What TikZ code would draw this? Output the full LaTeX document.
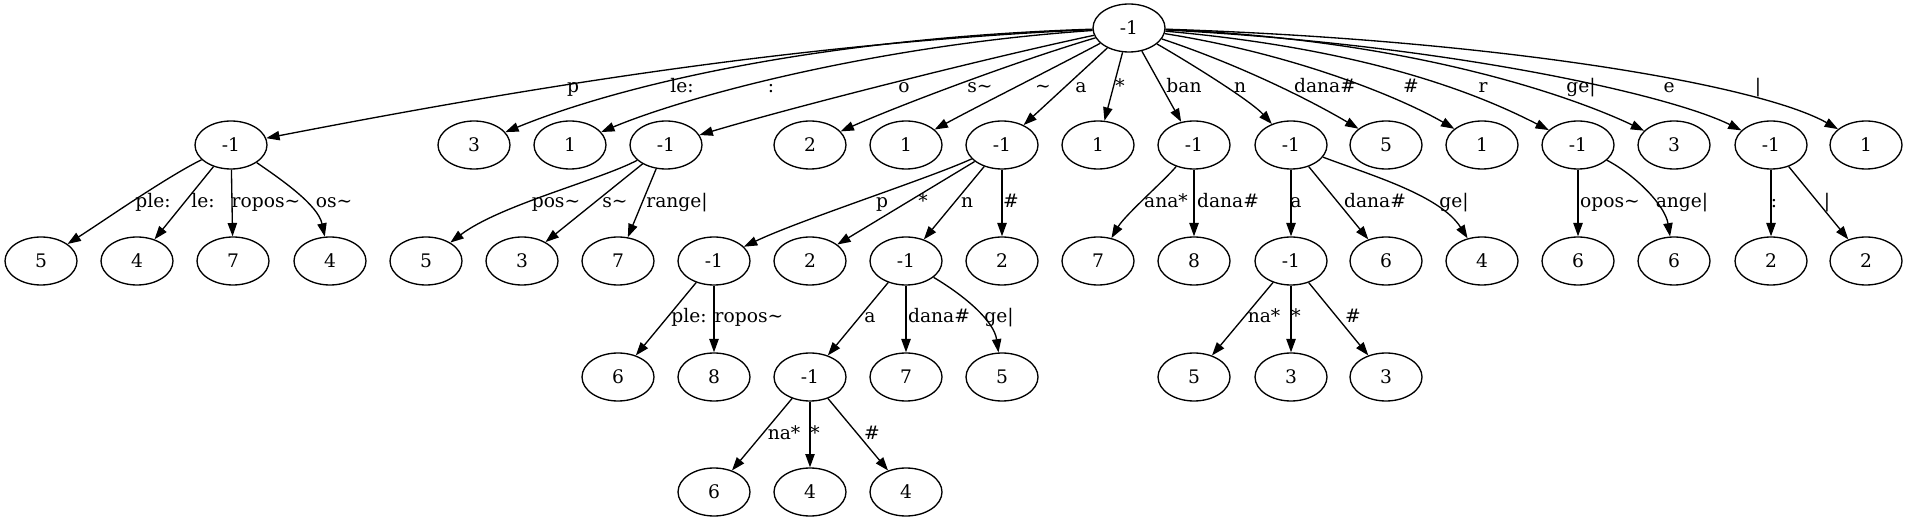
\documentclass[tikz,border=0pt]{standalone}
\usepackage{fontspec}
\setmainfont{DejaVu Serif}
\usetikzlibrary{shapes.geometric,arrows.meta}
\begin{document}
\begin{tikzpicture}[x=0.75pt,y=-0.75pt,
  nd/.style={draw,ellipse,line width=1pt,minimum width=54pt,minimum height=36pt,inner sep=0pt,font=\fontsize{14}{16}\selectfont},
  ed/.style={line width=1pt,-{Triangle[length=10pt,width=7pt]}},
  lb/.style={inner sep=0pt,anchor=base,font=\fontsize{14}{16}\selectfont}]
\useasboundingbox (0,0) rectangle (1908,523);
% root
\node[nd] (R) at (1129,28) {-1};
% level 1
\node[nd] (A)   at (231,145) {-1};
\node[nd] (L3a) at (474,145) {3};
\node[nd] (L1a) at (570,145) {1};
\node[nd] (B)   at (666,145) {-1};
\node[nd] (L2a) at (810,145) {2};
\node[nd] (L1b) at (906,145) {1};
\node[nd] (C)   at (1002,145) {-1};
\node[nd] (L1c) at (1098,145) {1};
\node[nd] (D)   at (1194,145) {-1};
\node[nd] (E)   at (1291,145) {-1};
\node[nd] (L5a) at (1386,145) {5};
\node[nd] (L1d) at (1482,145) {1};
\node[nd] (F)   at (1578,145) {-1};
\node[nd] (L3b) at (1674,145) {3};
\node[nd] (G)   at (1771,145) {-1};
\node[nd] (L1e) at (1866,145) {1};
% level 2
\node[nd] (a1) at (41,261) {5};
\node[nd] (a2) at (137,261) {4};
\node[nd] (a3) at (233,261) {7};
\node[nd] (a4) at (330,261) {4};
\node[nd] (b1) at (426,261) {5};
\node[nd] (b2) at (522,261) {3};
\node[nd] (b3) at (618,261) {7};
\node[nd] (H)  at (714,261) {-1};
\node[nd] (c2) at (810,261) {2};
\node[nd] (I)  at (906,261) {-1};
\node[nd] (c4) at (1002,261) {2};
\node[nd] (d1) at (1098,261) {7};
\node[nd] (d2) at (1194,261) {8};
\node[nd] (J)  at (1291,261) {-1};
\node[nd] (e2) at (1386,261) {6};
\node[nd] (e3) at (1482,261) {4};
\node[nd] (f1) at (1578,261) {6};
\node[nd] (f2) at (1674,261) {6};
\node[nd] (g1) at (1771,261) {2};
\node[nd] (g2) at (1866,261) {2};
% level 3
\node[nd] (h1) at (618,377) {6};
\node[nd] (h2) at (714,377) {8};
\node[nd] (K)  at (810,377) {-1};
\node[nd] (i2) at (906,377) {7};
\node[nd] (i3) at (1002,377) {5};
\node[nd] (j1) at (1194,377) {5};
\node[nd] (j2) at (1291,377) {3};
\node[nd] (j3) at (1386,377) {3};
% level 4
\node[nd] (k1) at (714,492) {6};
\node[nd] (k2) at (810,492) {4};
\node[nd] (k3) at (906,492) {4};
% root edges
\draw[ed] (R) .. controls (793,43) and (515,90) .. (A);
\draw[ed] (R) .. controls (820,38) and (620,85) .. (L3a);
\draw[ed] (R) .. controls (880,45) and (690,95) .. (L1a);
\draw[ed] (R) .. controls (1000,55) and (800,105) .. (B);
\draw[ed] (R) .. controls (1020,60) and (900,105) .. (L2a);
\draw[ed] (R) .. controls (1050,70) and (980,105) .. (L1b);
\draw[ed] (R) -- (C);
\draw[ed] (R) -- (L1c);
\draw[ed] (R) -- (D);
\draw[ed] (R) .. controls (1185,60) and (1250,100) .. (E);
\draw[ed] (R) .. controls (1240,65) and (1310,100) .. (L5a);
\draw[ed] (R) .. controls (1300,55) and (1405,100) .. (L1d);
\draw[ed] (R) .. controls (1380,50) and (1490,100) .. (F);
\draw[ed] (R) .. controls (1420,40) and (1580,100) .. (L3b);
\draw[ed] (R) .. controls (1450,45) and (1670,95) .. (G);
\draw[ed] (R) .. controls (1500,40) and (1760,85) .. (L1e);
% level 1 -> 2
\draw[ed] (A) .. controls (165,178) and (105,220) .. (a1);
\draw[ed] (A) -- (a2);
\draw[ed] (A) -- (a3);
\draw[ed] (A) .. controls (282,180) and (318,205) .. (a4);
\draw[ed] (B) .. controls (600,180) and (500,205) .. (b1);
\draw[ed] (B) -- (b2);
\draw[ed] (B) -- (b3);
\draw[ed] (C) .. controls (930,178) and (800,220) .. (H);
\draw[ed] (C) -- (c2);
\draw[ed] (C) -- (I);
\draw[ed] (C) -- (c4);
\draw[ed] (D) .. controls (1165,180) and (1125,215) .. (d1);
\draw[ed] (D) -- (d2);
\draw[ed] (E) -- (J);
\draw[ed] (E) -- (e2);
\draw[ed] (E) .. controls (1370,175) and (1440,195) .. (e3);
\draw[ed] (F) -- (f1);
\draw[ed] (F) .. controls (1635,175) and (1665,205) .. (f2);
\draw[ed] (G) -- (g1);
\draw[ed] (G) -- (g2);
% level 2 -> 3
\draw[ed] (H) -- (h1);
\draw[ed] (H) -- (h2);
\draw[ed] (I) -- (K);
\draw[ed] (I) -- (i2);
\draw[ed] (I) .. controls (965,296) and (994,321) .. (i3);
\draw[ed] (J) -- (j1);
\draw[ed] (J) -- (j2);
\draw[ed] (J) -- (j3);
% level 3 -> 4
\draw[ed] (K) -- (k1);
\draw[ed] (K) -- (k2);
\draw[ed] (K) -- (k3);
% labels row 1
\node[lb] (t01) at (573,93) {p};
\node[lb] (t02) at (682,93) {le:};
\node[lb] (t03) at (771,93) {:};
\node[lb] (t04) at (904,93) {o};
\node[lb] (t05) at (980,93) {s\textasciitilde};
\node[lb] (t06) at (1043,93) {\textasciitilde};
\node[lb] (t07) at (1081,93) {a};
\node[lb] (t08) at (1120,93) {*};
\node[lb] (t09) at (1184,93) {ban};
\node[lb] (t10) at (1240,93) {n};
\node[lb] (t11) at (1325,93) {dana\#};
\node[lb] (t12) at (1411,93) {\#};
\node[lb] (t13) at (1483,93) {r};
\node[lb] (t14) at (1581,93) {ge|};
\node[lb] (t15) at (1669,93) {e};
\node[lb] (t16) at (1758,93) {|};
% labels row 2
\node[lb] (u01) at (153,208) {ple:};
\node[lb] (u02) at (203,208) {le:};
\node[lb] (u03) at (266,208) {ropos\textasciitilde};
\node[lb] (u04) at (334,208) {os\textasciitilde};
\node[lb] (u05) at (556,208) {pos\textasciitilde};
\node[lb] (u06) at (615,208) {s\textasciitilde};
\node[lb] (u07) at (677,208) {range|};
\node[lb] (u08) at (882,208) {p};
\node[lb] (u09) at (923,208) {*};
\node[lb] (u10) at (967,208) {n};
\node[lb] (u11) at (1011,208) {\#};
\node[lb] (u12) at (1166,208) {ana*};
\node[lb] (u13) at (1228,208) {dana\#};
\node[lb] (u14) at (1296,208) {a};
\node[lb] (u15) at (1375,208) {dana\#};
\node[lb] (u16) at (1454,208) {ge|};
\node[lb] (u17) at (1610,208) {opos\textasciitilde};
\node[lb] (u18) at (1682,208) {ange|};
\node[lb] (u19) at (1774,208) {:};
\node[lb] (u20) at (1827,208) {|};
% labels row 3
\node[lb] (v01) at (689,323) {ple:};
\node[lb] (v02) at (749,323) {ropos\textasciitilde};
\node[lb] (v03) at (870,323) {a};
\node[lb] (v04) at (939,323) {dana\#};
\node[lb] (v05) at (999,323) {ge|};
\node[lb] (v06) at (1264,323) {na*};
\node[lb] (v07) at (1296,323) {*};
\node[lb] (v08) at (1353,323) {\#};
% labels row 4
\node[lb] (w01) at (784,440) {na*};
\node[lb] (w02) at (815,440) {*};
\node[lb] (w03) at (872,440) {\#};
\end{tikzpicture}
\end{document}
